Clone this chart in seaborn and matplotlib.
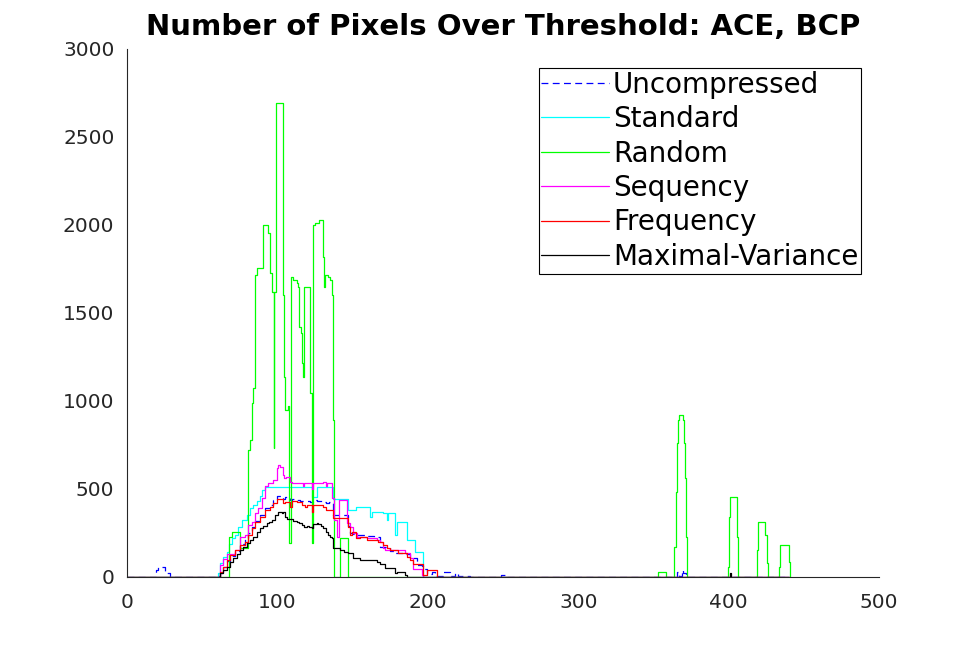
import matplotlib
matplotlib.use('Agg')
import matplotlib.pyplot as plt
import seaborn as sns

# breakpoints (x, count), drawn as steps
uncompressed_x = [0, 19.5, 20.8, 23.0, 25.0, 26.4, 28.6, 60.7, 62.0, 64.0, 66.3, 68.5, 71.8, 75.1, 78.5,
                  80.7, 82.9, 85.1, 88.4, 91.8, 95.1, 97.3, 99.5, 103.5, 105.0, 108.4, 110.0, 112.8, 115.0,
                  121.5, 124.0, 126.0, 130.0, 132.0, 134.0, 137.2, 147.2, 148.3, 150.0, 153.0, 159.4, 164.0,
                  166.0, 168.2, 175.0, 178.2, 185.0, 188.1, 190.4, 192.5, 195.9, 197.0, 199.2, 202.5, 205.0,
                  210.3, 214.7, 218.1, 220.3, 228.0, 249.0, 252.0, 365.9, 367.0, 369.2, 370.0, 371.5, 372.5, 440.0]
uncompressed_y = [0, 40, 59, 55, 35, 21, 0, 5, 25, 55, 90, 120, 150, 185, 215,
                  250, 285, 320, 350, 390, 410, 440, 462, 445, 455, 438, 445, 438, 430,
                  424, 440, 430, 424, 420, 425, 352, 290, 250, 245, 240, 235, 225,
                  230, 172, 150, 134, 130, 110, 106, 70, 60, 45, 15, 30, 5,
                  30, 5, 20, 3, 0, 12, 0, 30, 5, 40, 25, 5, 0, 0]

standard_x = [0, 60.7, 62.0, 64.0, 66.3, 68.0, 70.0, 71.8, 74.0, 76.2, 79.6, 81.8, 84.0, 86.2, 88.4, 90.0,
              91.8, 122.8, 126.1, 137.2, 147.2, 152.0, 161.6, 163.0, 170.4, 172.6, 173.5, 178.2, 179.5,
              185.9, 191.5, 197.0, 440.0]
standard_y = [0, 21, 80, 116, 144, 190, 220, 239, 286, 324, 350, 390, 409, 430, 460, 494,
              513, 456, 513, 441, 380, 400, 343, 371, 362, 324, 362, 239, 314,
              210, 140, 0, 0]

random_x = [0, 68.0, 70.0, 75.1, 80.5, 81.5, 82.9, 83.6, 85.1, 86.2, 90.6, 94.0, 95.1, 96.2, 97.6, 98.0,
            99.2, 103.5, 104.4, 105.1, 107.3, 108.0, 108.8, 110.6, 112.8, 113.5, 114.6, 115.5, 116.1,
            116.6, 117.2, 117.7, 122.0, 122.8, 123.5, 125.0, 127.9, 130.3, 131.2, 131.7, 133.9, 135.0,
            136.1, 137.0, 137.6, 141.6, 147.2, 353.3, 358.4, 363.9, 364.8, 365.5, 366.1, 366.8, 369.4,
            370.1, 370.7, 371.6, 372.3, 399.8, 400.5, 401.2, 405.4, 406.0, 419.1, 419.8, 424.4, 425.3,
            426.4, 433.7, 434.2, 440.2, 440.8]
random_y = [0, 230, 258, 165, 722, 780, 990, 1072, 1716, 1754, 2000, 1953, 1725, 1621, 731, 1621,
            2691, 1602, 1138, 950, 970, 192, 1705, 1688, 1670, 1650, 1422, 1385, 1347,
            1214, 1138, 1650, 1044, 192, 2000, 2010, 2028, 1820, 1650, 1716, 1706, 1688,
            1602, 892, 0, 220, 0, 27, 0, 172, 485, 760, 892, 920, 892,
            760, 561, 229, 0, 59, 343, 456, 229, 0, 153, 311, 239, 78,
            0, 59, 180, 87, 0]

sequency_x = [0, 59.6, 61.8, 64.0, 66.3, 71.8, 75.1, 78.5, 80.7, 82.9, 85.1, 87.3, 89.5, 91.8, 94.0, 97.3,
              99.5, 100.5, 102.0, 103.5, 104.4, 106.0, 108.4, 110.0, 116.1, 117.0, 118.0, 122.8, 124.0,
              130.0, 132.0, 133.0, 136.5, 137.8, 139.8, 141.2, 146.1, 148.3, 150.5, 153.0, 159.4, 166.0,
              168.2, 170.4, 171.5, 184.8, 188.1, 190.4, 196.0, 197.0, 440.0]
sequency_y = [0, 2, 66, 100, 132, 151, 227, 237, 294, 314, 362, 390, 447, 517, 532, 551,
              617, 636, 627, 580, 561, 566, 541, 532, 532, 517, 532, 498, 532,
              541, 517, 532, 447, 324, 227, 437, 305, 286, 248, 229, 219, 210,
              200, 163, 153, 135, 106, 43, 11, 0, 0]

frequency_x = [0, 60.0, 62.0, 64.0, 66.3, 68.5, 71.8, 75.1, 78.5, 80.7, 82.9, 85.1, 88.4, 91.8, 95.1, 97.3,
               99.5, 103.5, 105.0, 108.4, 110.0, 113.0, 116.1, 118.5, 120.0, 122.8, 124.0, 130.0, 132.0,
               137.2, 147.2, 148.3, 149.5, 152.0, 155.0, 159.4, 167.0, 170.0, 173.0, 175.0, 180.0, 186.0,
               188.0, 190.0, 196.5, 199.2, 206.0, 440.0]
frequency_y = [0, 2, 30, 59, 97, 125, 153, 182, 200, 239, 276, 314, 343, 381, 400, 419,
               441, 419, 428, 400, 430, 424, 410, 400, 410, 371, 410, 400, 381,
               333, 286, 238, 257, 219, 229, 210, 200, 182, 163, 153, 135, 116,
               97, 75, 11, 40, 0, 0]

maxvar_x = [0, 62.0, 64.0, 66.3, 68.5, 70.7, 73.0, 75.1, 77.3, 79.6, 81.8, 84.0, 86.2, 88.4, 90.6, 92.9,
            94.5, 96.2, 98.4, 100.6, 102.8, 103.8, 105.0, 106.5, 108.4, 110.6, 112.8, 114.5, 116.1,
            117.8, 119.5, 121.0, 122.8, 123.9, 126.0, 127.2, 128.8, 130.5, 132.2, 133.9, 135.0, 136.1,
            137.2, 141.6, 144.5, 147.2, 150.5, 154.9, 160.0, 166.0, 168.2, 171.5, 178.2, 179.3, 184.8,
            186.0, 401.0, 401.7, 440.0]
maxvar_y = [0, 20, 40, 59, 85, 106, 130, 153, 170, 191, 210, 229, 255, 276, 290, 305,
            315, 324, 352, 371, 362, 371, 343, 330, 328, 320, 314, 305, 295,
            286, 290, 286, 276, 300, 305, 300, 290, 276, 255, 239, 230, 219,
            163, 153, 140, 135, 106, 97, 97, 87, 76, 50, 20, 30, 11,
            0, 20, 0, 0]

labels = ['Uncompressed', 'Standard', 'Random', 'Sequency', 'Frequency', 'Maximal-Variance']
colors = ['#0000ff', '#00ffff', '#00ff00', '#ff00ff', '#ff0000', '#000000']
xs = [uncompressed_x, standard_x, random_x, sequency_x, frequency_x, maxvar_x]
ys = [uncompressed_y, standard_y, random_y, sequency_y, frequency_y, maxvar_y]

sns.set_style('white')
plt.rcParams['font.family'] = ['DejaVu Sans']

fig = plt.figure(figsize=(9.74, 6.48), dpi=100)
ax = fig.add_axes([127 / 974, 71 / 648, 752 / 974, 528 / 648])

for label, x, y, color in zip(labels, xs, ys, colors):
    sns.lineplot(x=x, y=y, ax=ax, color=color, linewidth=0.9, drawstyle='steps-post',
                 label=label, estimator=None, sort=False)
# uncompressed is dashed
ax.lines[0].set_dashes([5.5, 3.5])

ax.set_xlim(0, 500)
ax.set_ylim(0, 3000)
ax.set_xticks(range(0, 501, 100))
ax.set_yticks(range(0, 3001, 500))

ax.spines['top'].set_visible(False)
ax.spines['right'].set_visible(False)
for side in ['left', 'bottom']:
    ax.spines[side].set_color('0.15')
    ax.spines[side].set_linewidth(0.8)
ax.tick_params(direction='in', length=7, width=0.8, colors='0.15', labelsize=14.5)
ax.tick_params(axis='x', pad=11.5)
ax.tick_params(axis='y', pad=9)

ax.set_title('Number of Pixels Over Threshold: ACE, BCP', fontsize=21, fontweight='bold',
             color='black', pad=10)

leg = ax.legend(loc='upper right', bbox_to_anchor=(0.976, 0.964), borderaxespad=0, fontsize=20,
                frameon=True, fancybox=False, edgecolor='black', framealpha=1, handlelength=2.45,
                handletextpad=0.12, labelspacing=0.23, borderpad=0.1, labelcolor='black')
leg.get_frame().set_linewidth(0.8)

fig.savefig('out.png', dpi=100)
plt.close(fig)
